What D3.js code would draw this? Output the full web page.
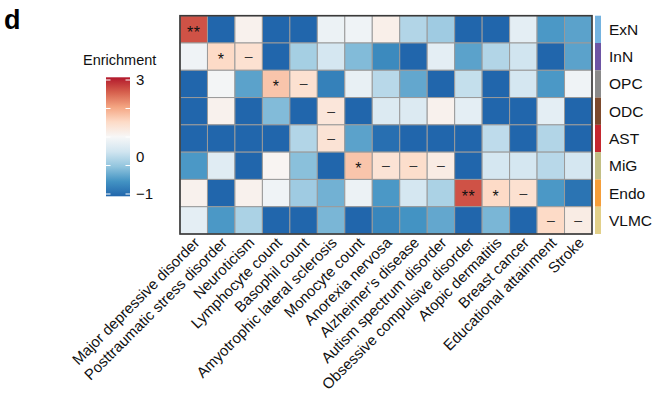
<!DOCTYPE html>
<html><head><meta charset="utf-8">
<script src="https://cdn.jsdelivr.net/npm/d3@7"></script>
<style>body{margin:0;background:#fff}svg{display:block;font-family:"Liberation Sans",Arial,sans-serif}</style>
</head><body><svg id="c" width="667" height="397"></svg>
<script>
const traits = ["Major depressive disorder","Posttraumatic stress disorder","Neuroticism","Lymphocyte count","Basophil count","Amyotrophic lateral sclerosis","Monocyte count","Anorexia nervosa","Alzheimer\u2019s disease","Autism spectrum disorder","Obsessive compulsive disorder","Atopic dermatitis","Breast cancer","Educational attainment","Stroke"];
const cellTypes = ["ExN","InN","OPC","ODC","AST","MiG","Endo","VLMC"];
const cellTypeColors = ["#74b3e0","#6d55a4","#8a8a8a","#7c4a2d","#c4282f","#c3bf85","#f59e3a","#e2d08a"];
const enrichment = [
  [2.6,-1,1.1,-1,-1,0.85,0.9,1.15,0.25,0.1,-1,-1,0.75,-0.45,-0.35],
  [0.9,1.5,1.4,-1,0.15,0.55,-0.1,-0.6,-1,0.75,-0.35,0.25,0.5,-1,-0.35],
  [-1,0.95,-0.35,1.7,1.4,-0.7,0.8,0.3,-0.3,-1,0.4,-1,0.55,-0.45,0.9],
  [-1,1.1,-1,-0.1,-1,1.3,-1,0.65,0.65,1.1,0.75,-1,-1,0.75,-1],
  [-1,-1,-1,-1,0.25,1.35,-0.35,-0.9,-1,-1,-1,0.35,-1,0.25,-1],
  [-0.45,0.7,-1,1.05,-0.05,-1,1.7,1.35,1.45,1.2,-1,0.55,0.55,0.3,0.55],
  [1.1,-1,1.1,0.9,0.1,-0.2,0.85,-0.45,0.55,0.2,2.6,1.5,1.4,-0.45,-0.85],
  [0.75,-0.45,0.2,-1,-1,-0.15,-1,-0.65,-0.5,-0.3,-1,-0.15,-1,1.5,1.2]
];
const signif = [
  ["**","","","","","","","","","","","","","",""],
  ["","*","-","","","","","","","","","","","",""],
  ["","","","*","-","","","","","","","","","",""],
  ["","","","","","-","","","","","","","","",""],
  ["","","","","","-","","","","","","","","",""],
  ["","","","","","","*","-","-","-","","","","",""],
  ["","","","","","","","","","","**","*","-","",""],
  ["","","","","","","","","","","","","","-","-"]
];
const legendTicks = [3, 0, -1];
const legendBreaks = [-1, 0, 1, 2, 3];
const palette = ["#2166ac","#4393c3","#92c5de","#d1e5f0","#f7f7f7","#fddbc7","#f4a582","#d6604d","#b2182b"];

const svg = d3.select("#c");
const gx0 = 180, gx1 = 592, gy0 = 15.7, gy1 = 234;
const x = d3.scaleBand().domain(traits).range([gx0, gx1]);
const y = d3.scaleBand().domain(cellTypes).range([gy0, gy1]);
const color = d3.scaleLinear().domain(d3.range(palette.length).map(i => -1 + i * 4 / (palette.length - 1))).range(palette).clamp(true);

const cells = [];
enrichment.forEach((row, i) => row.forEach((v, j) => cells.push({r: cellTypes[i], c: traits[j], v, s: signif[i][j]})));

svg.append("g").selectAll("rect").data(cells).join("rect")
  .attr("x", d => x(d.c)).attr("y", d => y(d.r))
  .attr("width", x.bandwidth()).attr("height", y.bandwidth())
  .attr("fill", d => color(d.v)).attr("stroke", "#9a9a9a").attr("stroke-width", 1);

svg.append("rect").attr("x", gx0).attr("y", gy0).attr("width", gx1 - gx0).attr("height", gy1 - gy0)
  .attr("fill", "none").attr("stroke", "#3a3a3a").attr("stroke-width", 1.6);

const lab = svg.append("g");
cells.filter(d => d.s).forEach(d => {
  const cx = x(d.c) + x.bandwidth() / 2, cy = y(d.r) + y.bandwidth() / 2;
  if (d.s === "-") {
    lab.append("text").attr("x", cx).attr("y", cy + 4.5).attr("text-anchor", "middle")
      .attr("font-size", 14).attr("fill", "#333").text("\u2013");
  } else {
    lab.append("text").attr("x", cx).attr("y", cy + 8.5).attr("text-anchor", "middle")
      .attr("font-size", 16).attr("fill", "#111").attr("letter-spacing", 0.5).text(d.s);
  }
});

// right annotation
svg.append("g").selectAll("rect").data(cellTypes).join("rect")
  .attr("x", 595).attr("y", d => y(d)).attr("width", 6).attr("height", y.bandwidth())
  .attr("fill", (d, i) => cellTypeColors[i]);
svg.append("g").selectAll("text").data(cellTypes).join("text")
  .attr("x", 609).attr("y", d => y(d) + y.bandwidth() / 2).attr("dy", "0.36em")
  .attr("font-size", 15.5).attr("fill", "#111").text(d => d);

// column labels
svg.append("g").selectAll("text").data(traits).join("text")
  .attr("transform", d => `translate(${x(d) + x.bandwidth() / 2 + 3},${gy1 + 6}) rotate(-45)`)
  .attr("text-anchor", "end").attr("dy", "0.35em")
  .attr("font-size", 15).attr("fill", "#111").text(d => d);

// panel letter
svg.append("text").attr("x", 4).attr("y", 29).attr("font-size", 27).attr("font-weight", "bold").text("d");

// legend
const ly = d3.scaleLinear().domain([-1, 3]).range([194, 80]);
const defs = svg.append("defs");
const grad = defs.append("linearGradient").attr("id", "lg").attr("x1", 0).attr("y1", 1).attr("x2", 0).attr("y2", 0);
palette.forEach((c, i) => grad.append("stop").attr("offset", i / (palette.length - 1)).attr("stop-color", c));
svg.append("text").attr("x", 83).attr("y", 65).attr("font-size", 14.5).attr("fill", "#111").text("Enrichment");
svg.append("rect").attr("x", 106).attr("y", 77.3).attr("width", 24).attr("height", 119).attr("fill", "url(#lg)");
legendBreaks.forEach(v => {
  [[106, 110.5], [125.5, 130]].forEach(([a, b]) =>
    svg.append("line").attr("x1", a).attr("x2", b).attr("y1", ly(v)).attr("y2", ly(v))
      .attr("stroke", "#fff").attr("stroke-width", 1));
});
svg.append("g").selectAll("text").data(legendTicks).join("text")
  .attr("x", 136).attr("y", d => ly(d) + (d === 0 ? -9 : 0)).attr("dy", "0.36em")
  .attr("font-size", 15).attr("fill", "#111").text(d => d < 0 ? "\u2212" + Math.abs(d) : d);
</script></body></html>
